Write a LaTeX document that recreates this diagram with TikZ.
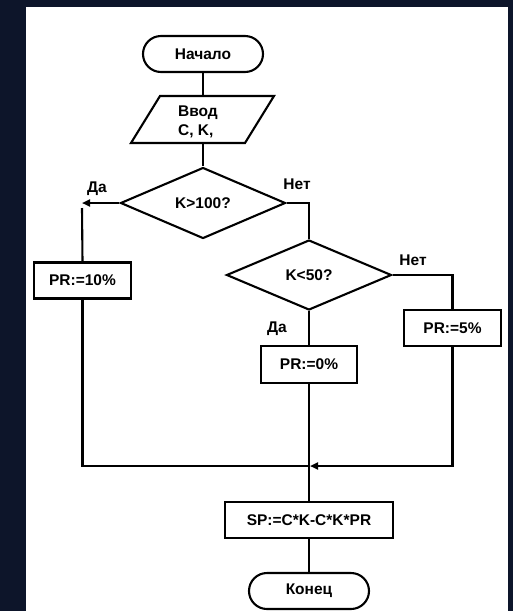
\documentclass[tikz,border=0pt]{standalone}
\usepackage{fontspec}
\setmainfont{Liberation Sans}
\usetikzlibrary{shapes.geometric,arrows.meta}
\definecolor{bgnavy}{RGB}{13,21,42}
\begin{document}
\begin{tikzpicture}[x=1pt,y=-1pt,
  every node/.style={font=\fontsize{15.5}{19}\selectfont\bfseries},
  conn/.style={line width=2.1pt},
  term/.style={draw,line width=2.1pt,rounded corners=18pt,minimum width=120pt,minimum height=36pt,inner sep=0pt},
  proc/.style={draw,line width=2.1pt,minimum height=36pt,inner sep=0pt},
  dec/.style={draw,diamond,line width=2.1pt,minimum width=165pt,minimum height=71pt,inner sep=0pt},
  lbl/.style={inner sep=0pt},
  arr/.style={conn,-{Triangle[length=8pt,width=7pt]}}]
\useasboundingbox (0,0) rectangle (513,611);
\fill[bgnavy] (0,0) rectangle (513,611);
\fill[white] (26,7) rectangle (508,611);

\node[term] (start) at (203,54) {Начало};
\coordinate (inpT) at (203,96);
\coordinate (inpB) at (203,143);
\draw[line width=2.1pt] (160,96) -- (274,96) -- (245,143) -- (131,143) -- cycle;
\node[align=left,inner sep=0pt] (inp) at (198,122) {Ввод\\C, K,};

\node[dec] (d1) at (203,203) {K>100?};
\node[proc,minimum width=97pt] (p10) at (82.5,280.5) {PR:=10\%};
\node[dec,minimum height=70pt] (d2) at (309,275) {K<50?};
\node[proc,minimum width=97pt] (p5) at (452.5,328) {PR:=5\%};
\node[proc,minimum width=96pt,minimum height=37pt] (p0) at (309,364.5) {PR:=0\%};
\node[proc,minimum width=168pt] (sp) at (309,520) {SP:=C*K-C*K*PR};
\node[term] (end) at (309,591) {Конец};

\node[lbl] (yes1) at (97,189) {Да};
\node[lbl] (no1) at (297,184) {Нет};
\node[lbl] (no2) at (413,260) {Нет};
\node[lbl] (yes2) at (277,329) {Да};

\coordinate (a1) at (82,203);
\coordinate (a1b) at (82,208);
\coordinate (j) at (309,466);

\draw[conn] (start.south) -- (inpT);
\draw[conn] (inpB) -- (d1.north);
\draw[arr] (d1.west) -- (a1);
\draw[conn] (a1b) -- (p10.north);
\draw[conn] (d1.east) -| (d2.north);
\draw[conn] (d2.east) -| (p5.north);
\draw[conn] (d2.south) -- (p0.north);
\draw[conn] (p0.south) -- (sp.north);
\draw[conn] (p10.south) |- (j);
\draw[arr,shorten >=1pt] (p5.south) |- (j);
\draw[conn] (sp.south) -- (end.north);
\end{tikzpicture}
\end{document}
